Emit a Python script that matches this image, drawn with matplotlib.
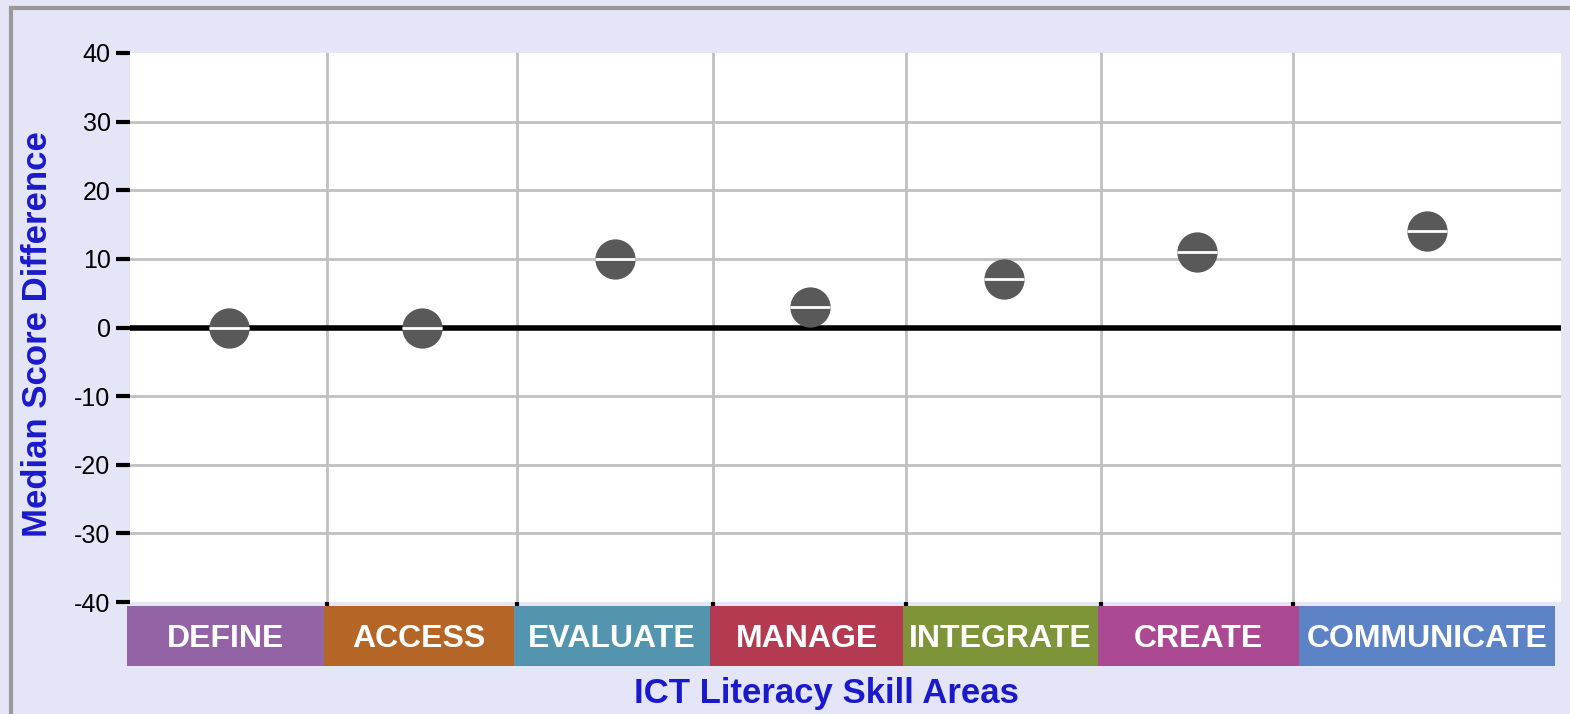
import matplotlib.pyplot as plt
from matplotlib.patches import Rectangle
import matplotlib.transforms as mtransforms

# data
categories = ["DEFINE", "ACCESS", "EVALUATE", "MANAGE", "INTEGRATE", "CREATE", "COMMUNICATE"]
values = [0, 0, 10, 3, 7, 11, 14]
cat_colors = ["#9463A5", "#B56627", "#5395AE", "#B33A50", "#7D9438", "#AB4A92", "#5C83C6"]
yticks = [-40, -30, -20, -10, 0, 10, 20, 30, 40]

# layout: category column widths (non uniform in the original)
widths = [197, 190, 196, 193, 195, 192, 268]
edges = [0]
for w in widths:
    edges.append(edges[-1] + w)
centers = [(edges[i] + edges[i + 1]) / 2 for i in range(len(widths))]
box_edges = [-3] + [e - 3 for e in edges[1:-2]] + [edges[-2] + 6, edges[-1] - 6]

bg = "#E5E5F8"
blue = "#1A1ACC"
plt.rcParams['font.family'] = ['Liberation Sans', 'DejaVu Sans']

fig = plt.figure(figsize=(15.7, 7.14), dpi=100, facecolor=bg)
ax = fig.add_axes([130 / 1570, 1 - 602 / 714, 1431 / 1570, 549 / 714])
ax.set_facecolor("white")
ax.set_xlim(edges[0], edges[-1])
ax.set_ylim(-40, 40)

for e in edges[1:-1]:
    ax.axvline(e, color="#C0C0C0", lw=2, zorder=1)
for t in yticks[1:-1]:
    if t != 0:
        ax.axhline(t, color="#C0C0C0", lw=2, zorder=1)
ax.axhline(0, color="black", lw=4, zorder=2)

ax.plot(centers, values, 'o', ms=29, color="#595959", mec="none", zorder=3, ls='')
ax.plot(centers, values, '_', ms=29, mew=2, color="white", zorder=4, ls='')

for s in ax.spines.values():
    s.set_visible(False)
ax.set_yticks(yticks)
ax.set_yticklabels([str(t) for t in yticks], fontsize=18)
ax.tick_params(axis='y', length=10, width=3, pad=4)
ax.set_xticks(edges[1:-1])
ax.set_xticklabels([])
ax.tick_params(axis='x', length=3, width=3)

# category boxes below the plot
trans = mtransforms.blended_transform_factory(ax.transData, fig.transFigure)
y0 = 1 - 666 / 714
h = 60 / 714
for i, cat in enumerate(categories):
    ax.add_patch(Rectangle((box_edges[i], y0), box_edges[i + 1] - box_edges[i], h,
                           transform=trans, color=cat_colors[i], clip_on=False, lw=0))
    ax.text((box_edges[i] + box_edges[i + 1]) / 2, y0 + h / 2 - 3 / 714, cat, transform=trans,
            color="white", fontsize=23, fontweight="bold", ha="center", va="center")

fig.text(38 / 1570, 1 - 334 / 714, "Median Score Difference", rotation=90, color=blue,
         fontsize=25, fontweight="bold", ha="center", va="center")
fig.text(826 / 1570, 1 - 694 / 714, "ICT Literacy Skill Areas", color=blue,
         fontsize=25, fontweight="bold", ha="center", va="center")

# outer frame
fig.add_artist(plt.Line2D([11 / 1570, 11 / 1570], [0, 1 - 8 / 714], color="#999999", lw=3))
fig.add_artist(plt.Line2D([11 / 1570, 1], [1 - 8 / 714, 1 - 8 / 714], color="#999999", lw=3))

fig.savefig("out.png", facecolor=bg)
